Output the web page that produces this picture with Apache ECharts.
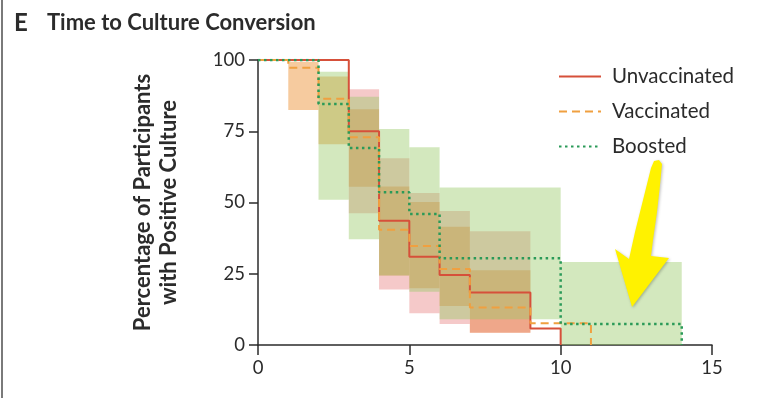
<!DOCTYPE html>
<html>
<head>
<meta charset="utf-8">
<script src="https://cdn.jsdelivr.net/npm/echarts@6/dist/echarts.min.js"></script>
<style>
  html, body { margin: 0; padding: 0; background: #fff; }
  #chart { width: 758px; height: 398px; }
</style>
</head>
<body>
<div id="chart"></div>
<script>
// step curves: [day, percent] — value holds from this day until the next point
var unvaccinated = [[0, 100], [3, 75], [4, 43.6], [5, 31], [6, 24.6], [7, 18.4], [9, 5.8], [10, 0]];
var vaccinated = [[0, 100], [1, 97.3], [2, 86.4], [3, 72.9], [4, 40.4], [5, 34.7], [6, 26.7], [7, 13.2], [9, 7.6], [11, 0]];
var boosted = [[0, 100], [2, 84.6], [3, 69.1], [4, 53.6], [5, 46], [6, 30.4], [10, 7.4], [14, 0]];

// confidence bands: [fromDay, toDay, lower, upper]
var unvaccinatedBand = [[3, 4, 46.2, 89.7], [4, 5, 19.5, 65.5], [5, 6, 11.1, 53.3], [6, 7, 7.4, 47], [7, 9, 4.3, 39.9]];
var vaccinatedBand = [[1, 2, 82.5, 99.4], [2, 3, 70.4, 94.2], [3, 4, 55.5, 82.7], [4, 5, 24.4, 55.6], [5, 6, 19.9, 50.2], [6, 7, 13.7, 41.5], [7, 9, 4.3, 26.2]];
var boostedBand = [[2, 3, 51, 95.9], [3, 4, 37.1, 87.1], [4, 5, 24.4, 75.8], [5, 6, 18.7, 69.4], [6, 10, 9.0, 55.3], [10, 14, 0, 29.1]];

var xTicks = [0, 5, 10, 15];
var yTicks = [0, 25, 50, 75, 100];

var font = 'Lato, "Open Sans", sans-serif';
var ink = '#2b2b2b';

function bandRenderer(fill) {
  return function (params, api) {
    var a = api.coord([api.value(0), api.value(3)]);
    var b = api.coord([api.value(1), api.value(2)]);
    return {
      type: 'rect',
      shape: { x: a[0], y: a[1], width: b[0] - a[0], height: b[1] - a[1] },
      style: { fill: fill }
    };
  };
}

function bandSeries(name, data, fill, z) {
  return {
    name: name,
    type: 'custom',
    renderItem: bandRenderer(fill),
    encode: { x: [0, 1], y: [2, 3] },
    data: data,
    z: z,
    silent: true
  };
}

var chart = echarts.init(document.getElementById('chart'), null, { renderer: 'canvas' });
chart.setOption({
  animation: false,
  title: {
    left: 14,
    top: 11,
    padding: 0,
    text: '{e|E}{t|Time to Culture Conversion}',
    textStyle: {
      rich: {
        e: { fontFamily: font, fontWeight: 'bold', fontSize: 24, color: ink, width: 33 },
        t: { fontFamily: font, fontWeight: 'bold', fontSize: 22, color: ink }
      }
    }
  },
  legend: {
    data: ['Unvaccinated', 'Vaccinated', 'Boosted'],
    orient: 'vertical',
    left: 558,
    top: 66,
    padding: 0,
    itemWidth: 42,
    itemHeight: 20,
    itemGap: 14,
    itemStyle: { opacity: 0 },
    textStyle: { fontFamily: font, fontSize: 20.5, color: ink, padding: [0, 0, 0, 6] }
  },
  grid: { left: 258, right: 46, top: 60, bottom: 53 },
  xAxis: {
    type: 'value',
    min: 0,
    max: 15,
    interval: 5,
    axisLine: { lineStyle: { color: ink, width: 1.5 } },
    axisTick: { length: 10, lineStyle: { color: ink, width: 1.5 } },
    axisLabel: {
      fontFamily: font, fontSize: 18.5, color: ink, margin: 14,
      formatter: function (v) { return xTicks.indexOf(v) >= 0 ? String(v) : ''; }
    },
    splitLine: { show: false }
  },
  yAxis: {
    type: 'value',
    min: 0,
    max: 100,
    interval: 25,
    name: 'Percentage of Participants\nwith Positive Culture',
    nameLocation: 'middle',
    nameRotate: 90,
    nameGap: 76,
    nameTextStyle: { fontFamily: font, fontWeight: 'bold', fontSize: 22, color: ink, lineHeight: 26 },
    axisLine: { show: true, lineStyle: { color: ink, width: 1.5 } },
    axisTick: { show: true, length: 9, lineStyle: { color: ink, width: 1.5 } },
    axisLabel: {
      fontFamily: font, fontSize: 18.5, color: ink, margin: 13,
      formatter: function (v) { return yTicks.indexOf(v) >= 0 ? String(v) : ''; }
    },
    splitLine: { show: false }
  },
  series: [
    bandSeries('vacBand', vaccinatedBand, 'rgba(238,160,80,0.55)', 1),
    bandSeries('unvacBand', unvaccinatedBand, 'rgba(225,100,100,0.35)', 2),
    bandSeries('boostBand', boostedBand, 'rgba(150,200,100,0.42)', 3),
    {
      name: 'Unvaccinated',
      type: 'line',
      step: 'end',
      data: unvaccinated,
      symbol: 'none',
      color: '#d6503a',
      lineStyle: { color: '#d6503a', width: 2 },
      z: 5
    },
    {
      name: 'Vaccinated',
      type: 'line',
      step: 'end',
      data: vaccinated,
      symbol: 'none',
      color: '#f0a040',
      lineStyle: { color: '#f0a040', width: 2, type: [8, 5] },
      z: 6
    },
    {
      name: 'Boosted',
      type: 'line',
      step: 'end',
      data: boosted,
      symbol: 'none',
      color: '#2a9a58',
      lineStyle: { color: '#2a9a58', width: 2.5, type: [2.5, 3.5] },
      z: 7
    }
  ],
  graphic: [
    {
      type: 'rect',
      shape: { x: 1, y: 0, width: 2, height: 398 },
      style: { fill: '#7a7a7a' },
      z: 10
    },
    {
      type: 'polygon',
      shape: {
        points: [[654, 161], [659, 160], [662, 164], [660, 185], [657, 212], [653, 240], [651, 256],
          [669, 258], [632, 307], [615, 249], [629, 259], [635, 232], [643, 200], [651, 168]],
        smooth: 0
      },
      style: { fill: '#fff200', shadowBlur: 3, shadowColor: 'rgba(0,0,0,0.25)', shadowOffsetX: 1, shadowOffsetY: 1 },
      z: 20
    }
  ]
});
window.addEventListener('resize', function () { chart.resize(); });
</script>
</body>
</html>
